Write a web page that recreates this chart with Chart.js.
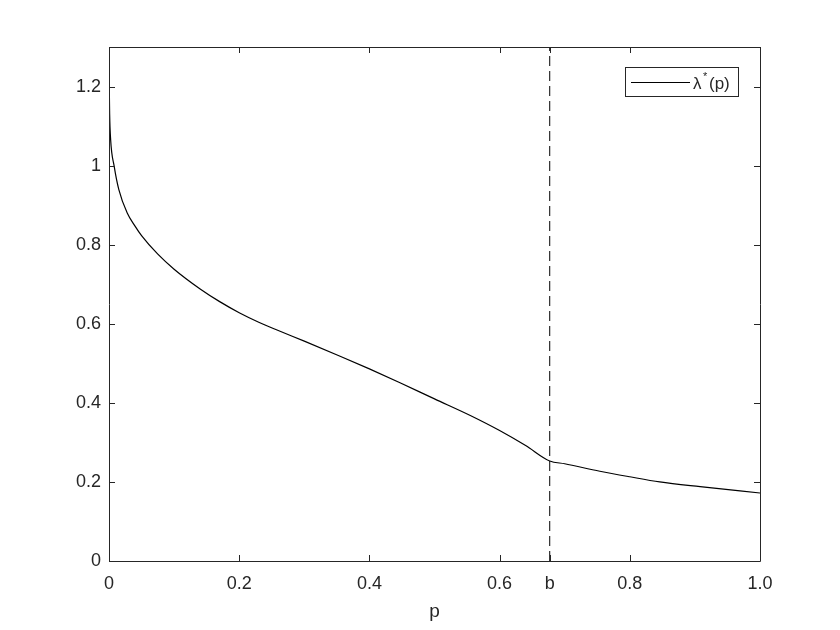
<!DOCTYPE html>
<html>
<head>
<meta charset="utf-8">
<script src="https://cdn.jsdelivr.net/npm/chart.js@4.4.1/dist/chart.umd.min.js"></script>
<style>
  html, body { margin: 0; padding: 0; background: #fff; }
  #wrap { width: 840px; height: 630px; }
</style>
</head>
<body>
<div id="wrap"><canvas id="lambdaChart" width="840" height="630"></canvas></div>
<script>
// values
const pValues = [0, 0.001, 0.0025, 0.008, 0.015, 0.028, 0.04, 0.05, 0.075, 0.1, 0.14, 0.17, 0.2, 0.23, 0.26, 0.3, 0.355, 0.4, 0.447, 0.5, 0.555, 0.6, 0.64, 0.677, 0.7, 0.754, 0.8, 0.846, 0.908, 1.0];
const lambdaValues = [1.25, 1.13, 1.066, 0.998, 0.94, 0.88, 0.847, 0.823, 0.776, 0.738, 0.688, 0.656, 0.628, 0.604, 0.583, 0.556, 0.518, 0.486, 0.451, 0.41, 0.368, 0.33, 0.292, 0.253, 0.246, 0.227, 0.213, 0.2, 0.188, 0.172];
const bValue = 0.677;
const xTickValues = [0, 0.2, 0.4, 0.6, bValue, 0.8, 1.0];
const xTickLabels = ['0', '0.2', '0.4', '0.6', 'b', '0.8', '1.0'];
const yTickValues = [0, 0.2, 0.4, 0.6, 0.8, 1.0, 1.2];
const yTickLabels = ['0', '0.2', '0.4', '0.6', '0.8', '1', '1.2'];

const axisColor = '#262626';
const fontFamily = '"Liberation Sans", Arial, Helvetica, sans-serif';

// MATLAB-like box with inward ticks and a small legend
const boxPlugin = {
    id: 'matlabBox',
    afterDraw(chart) {
        const ctx = chart.ctx;
        const a = chart.chartArea;
        const xs = chart.scales.x, ys = chart.scales.y;
        const tl = 6;
        ctx.save();
        ctx.strokeStyle = axisColor;
        ctx.lineWidth = 1;
        ctx.beginPath();
        ctx.rect(Math.round(a.left) + 0.5, Math.round(a.top) + 0.5, Math.round(a.right - a.left), Math.round(a.bottom - a.top));
        xTickValues.forEach(v => {
            const px = Math.round(xs.getPixelForValue(v)) + 0.5;
            ctx.moveTo(px, a.bottom); ctx.lineTo(px, a.bottom - tl);
            ctx.moveTo(px, a.top); ctx.lineTo(px, a.top + tl);
        });
        yTickValues.forEach(v => {
            const py = Math.round(ys.getPixelForValue(v)) + 0.5;
            ctx.moveTo(a.left, py); ctx.lineTo(a.left + tl, py);
            ctx.moveTo(a.right, py); ctx.lineTo(a.right - tl, py);
        });
        ctx.stroke();

        // legend
        const lx = 625.5, ly = 67.5, lw = 113, lh = 29;
        ctx.fillStyle = '#fff';
        ctx.fillRect(lx, ly, lw, lh);
        ctx.strokeRect(lx, ly, lw, lh);
        ctx.beginPath();
        ctx.strokeStyle = '#000';
        ctx.moveTo(631, 82.5); ctx.lineTo(690, 82.5);
        ctx.stroke();
        ctx.fillStyle = axisColor;
        ctx.textBaseline = 'alphabetic';
        ctx.textAlign = 'left';
        ctx.font = '17px ' + fontFamily;
        ctx.fillText('\u03bb', 693, 89);
        ctx.font = '11px ' + fontFamily;
        ctx.fillText('*', 703, 80);
        ctx.font = '17px ' + fontFamily;
        ctx.fillText('(p)', 709, 89);
        ctx.restore();
    }
};

window.onload = function() {
    const canvas = document.getElementById('lambdaChart');
    if (!canvas) {
        console.error('canvas not found');
        return;
    }
    new Chart(canvas, {
        type: 'line',
        data: {
            datasets: [{
                label: '\u03bb*(p)',
                data: pValues.map((p, i) => ({ x: p, y: lambdaValues[i] })),
                borderColor: '#000',
                borderWidth: 1.2,
                pointRadius: 0,
                cubicInterpolationMode: 'monotone',
                fill: false
            }, {
                label: 'b',
                data: [{ x: bValue, y: 0 }, { x: bValue, y: 1.3 }],
                borderColor: '#000',
                borderWidth: 1,
                borderDash: [10, 5],
                pointRadius: 0,
                fill: false
            }]
        },
        options: {
            responsive: false,
            animation: false,
            devicePixelRatio: 1,
            layout: { padding: { top: 47, right: 80, left: 0, bottom: 0 } },
            plugins: {
                legend: { display: false },
                tooltip: { enabled: false }
            },
            scales: {
                x: {
                    type: 'linear',
                    min: 0,
                    max: 1,
                    grid: { display: false, drawTicks: false },
                    border: { display: false },
                    afterBuildTicks(scale) {
                        scale.ticks = xTickValues.map(v => ({ value: v }));
                    },
                    afterFit(scale) { scale.height = 69; },
                    ticks: {
                        autoSkip: false,
                        maxRotation: 0,
                        padding: 12,
                        color: axisColor,
                        font: { family: fontFamily, size: 18 },
                        callback: (v, i) => xTickLabels[i]
                    },
                    title: {
                        display: true,
                        text: 'p',
                        color: axisColor,
                        font: { family: fontFamily, size: 19 },
                        padding: { top: 4, bottom: 7 }
                    }
                },
                y: {
                    type: 'linear',
                    min: 0,
                    max: 1.3,
                    grid: { display: false, drawTicks: false },
                    border: { display: false },
                    afterBuildTicks(scale) {
                        scale.ticks = yTickValues.map(v => ({ value: v }));
                    },
                    afterFit(scale) { scale.width = 109; },
                    ticks: {
                        autoSkip: false,
                        padding: 8,
                        color: axisColor,
                        font: { family: fontFamily, size: 18 },
                        callback: (v, i) => yTickLabels[i]
                    }
                }
            }
        },
        plugins: [boxPlugin]
    });
};
</script>
</body>
</html>
